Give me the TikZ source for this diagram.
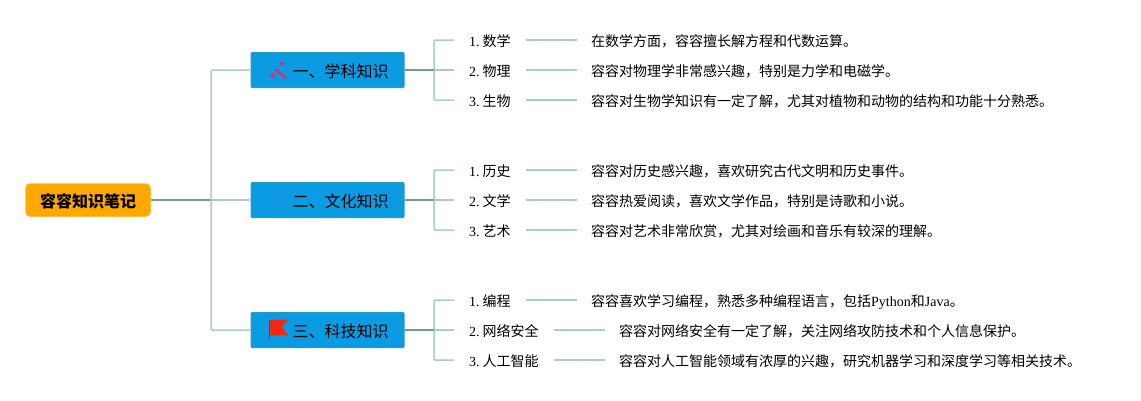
\documentclass[tikz,border=0pt]{standalone}
\usepackage{fontspec}
\setmainfont{Liberation Serif}
\newfontfamily\cjk{Noto Sans CJK SC}
\newcommand{\itemname}[2]{#1.\hspace{2.8pt}{\cjk #2}}
\definecolor{rootfill}{HTML}{FFA800}
\definecolor{topicfill}{HTML}{0A9BE2}
\definecolor{topicedge}{HTML}{2A9BB5}
\definecolor{darkline}{HTML}{6A9F92}
\definecolor{lightline}{HTML}{A9CEC6}
\definecolor{wandpink}{HTML}{D6307E}
\definecolor{faintblue}{HTML}{1396DF}
\definecolor{flagred}{HTML}{F5280F}
\tikzset{
    rootbox/.style={draw=rootfill, fill=rootfill, rounded corners=5, minimum width=125, minimum height=33, inner sep=0, text height=14, text depth=0, font=\fontsize{16}{18}\selectfont\cjk\bfseries},
    topicbox/.style={draw=topicedge, fill=topicfill, rounded corners=1, line width=1, text width=122, inner xsep=15.5, minimum height=35, inner ysep=0, text height=14, text depth=0, align=right, font=\fontsize{16}{18}\selectfont\cjk},
    itemlabel/.style={anchor=west, inner xsep=15, inner ysep=0, text height=13, text depth=0, font=\fontsize{14}{16}\selectfont},
    itemtext/.style={anchor=west, inner xsep=14, inner ysep=0, text height=13, text depth=0, font=\fontsize{14}{16}\selectfont\cjk},
    trunkline/.style={draw=darkline, line width=1.5},
    twigline/.style={draw=lightline, line width=1.5, rounded corners=1}
}
\begin{document}
\begin{tikzpicture}[x=1pt, y=-1pt]
    \useasboundingbox (0,0) rectangle (1141,400);

    % Root and topics
    \node[rootbox] (root) at (88,200) {容容知识笔记};
    \node[topicbox] (study) at (327.5,70) {一、学科知识};
    \node[topicbox] (culture) at (327.5,200) {二、文化知识};
    \node[topicbox] (tech) at (327.5,330) {三、科技知识};

    % Topic 1
    \node[itemlabel] (mathitem) at (454,40) {\itemname{1}{数学}};
    \node[itemtext] (mathtext) at (577,40) {在数学方面，容容擅长解方程和代数运算。};
    \node[itemlabel] (physitem) at (454,70) {\itemname{2}{物理}};
    \node[itemtext] (phystext) at (577,70) {容容对物理学非常感兴趣，特别是力学和电磁学。};
    \node[itemlabel] (bioitem) at (454,100) {\itemname{3}{生物}};
    \node[itemtext] (biotext) at (577,100) {容容对生物学知识有一定了解，尤其对植物和动物的结构和功能十分熟悉。};

    % Topic 2
    \node[itemlabel] (histitem) at (454,170) {\itemname{1}{历史}};
    \node[itemtext] (histtext) at (577,170) {容容对历史感兴趣，喜欢研究古代文明和历史事件。};
    \node[itemlabel] (lititem) at (454,200) {\itemname{2}{文学}};
    \node[itemtext] (littext) at (577,200) {容容热爱阅读，喜欢文学作品，特别是诗歌和小说。};
    \node[itemlabel] (artitem) at (454,230) {\itemname{3}{艺术}};
    \node[itemtext] (arttext) at (577,230) {容容对艺术非常欣赏，尤其对绘画和音乐有较深的理解。};

    % Topic 3
    \node[itemlabel] (codeitem) at (454,300) {\itemname{1}{编程}};
    \node[itemtext] (codetext) at (577,300) {容容喜欢学习编程，熟悉多种编程语言，包括{\rmfamily Python}和{\rmfamily Java}。};
    \node[itemlabel] (netitem) at (454,330) {\itemname{2}{网络安全}};
    \node[itemtext] (nettext) at (605,330) {容容对网络安全有一定了解，关注网络攻防技术和个人信息保护。};
    \node[itemlabel] (aiitem) at (454,360) {\itemname{3}{人工智能}};
    \node[itemtext] (aitext) at (605,360) {容容对人工智能领域有浓厚的兴趣，研究机器学习和深度学习等相关技术。};

    % Junctions
    \coordinate (hub) at (211,200);
    \coordinate (studyhub) at (434,70);
    \coordinate (culturehub) at (434,200);
    \coordinate (techhub) at (434,330);

    % Connectors
    \draw[trunkline] (root.east) -- (hub);
    \draw[twigline] (hub) |- (study.west);
    \draw[twigline] (hub) -- (culture.west);
    \draw[twigline] (hub) |- (tech.west);

    \draw[twigline] (studyhub) |- (mathitem.west);
    \draw[twigline] (studyhub) -- (physitem.west);
    \draw[twigline] (studyhub) |- (bioitem.west);
    \draw[twigline] (culturehub) |- (histitem.west);
    \draw[twigline] (culturehub) -- (lititem.west);
    \draw[twigline] (culturehub) |- (artitem.west);
    \draw[twigline] (techhub) |- (codeitem.west);
    \draw[twigline] (techhub) -- (netitem.west);
    \draw[twigline] (techhub) |- (aiitem.west);

    \draw[trunkline] (study.east) -- (studyhub);
    \draw[trunkline] (culture.east) -- (culturehub);
    \draw[trunkline] (tech.east) -- (techhub);

    \draw[twigline] (mathitem.east) -- (mathtext.west);
    \draw[twigline] (physitem.east) -- (phystext.west);
    \draw[twigline] (bioitem.east) -- (biotext.west);
    \draw[twigline] (histitem.east) -- (histtext.west);
    \draw[twigline] (lititem.east) -- (littext.west);
    \draw[twigline] (artitem.east) -- (arttext.west);
    \draw[twigline] (codeitem.east) -- (codetext.west);
    \draw[twigline] (netitem.east) -- (nettext.west);
    \draw[twigline] (aiitem.east) -- (aitext.west);

    % Icons
    \draw[draw=wandpink, line width=2.5] (275,69) -- (286,78);
    \fill[wandpink] (272.7,75.3) circle (2.5);
    \fill[wandpink] (282,63.3) circle (2);
    \fill[wandpink!40!topicfill] (286,70) circle (1);
    \fill[faintblue] (278,198) circle (5);
    \fill[faintblue] (272,208) .. controls (272,200) and (284,200) .. (284,208) -- cycle;
    \draw[draw=flagred!80!black, line width=0.8] (269.7,320) -- (269.7,340);
    \fill[flagred] (270,320) -- (288,319.5) -- (282,327) -- (288,335) -- (270,335.5) -- cycle;
\end{tikzpicture}
\end{document}
